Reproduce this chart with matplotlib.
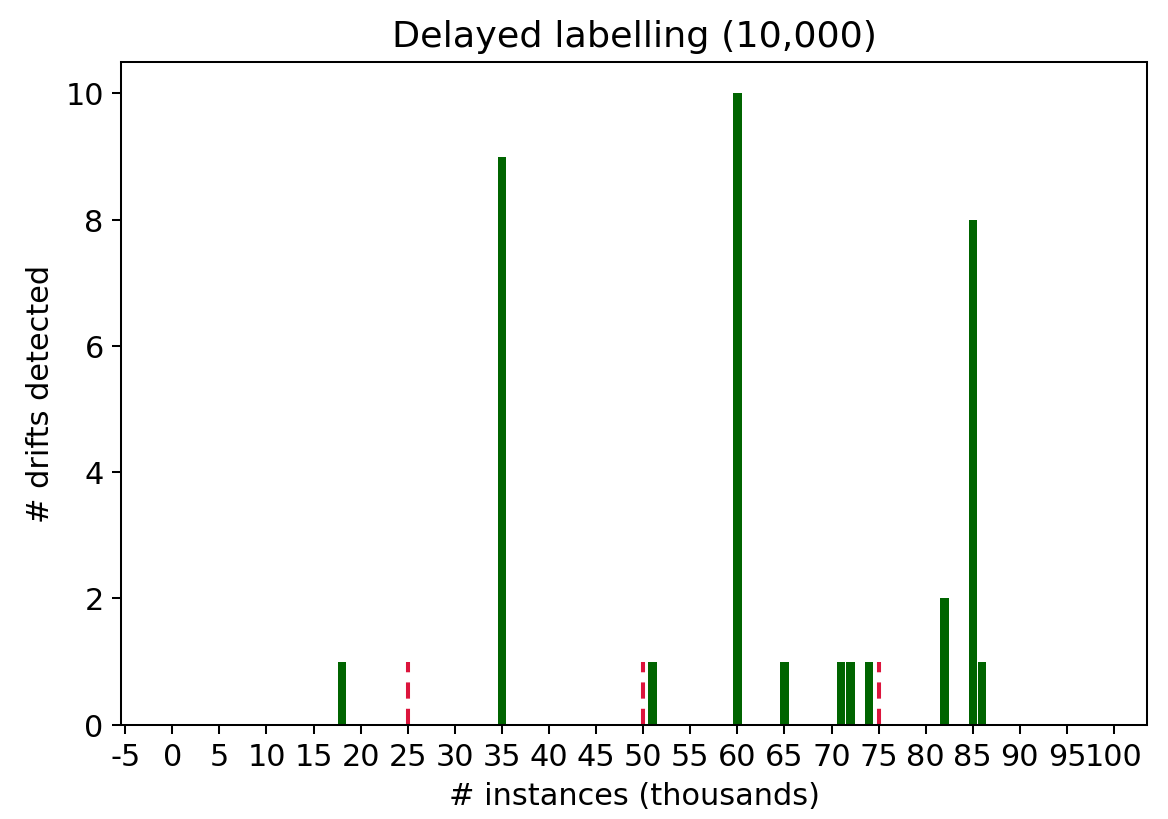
import matplotlib
matplotlib.use("Agg")
import matplotlib.pyplot as plt

# drift detections per thousand instances
positions = [18, 35, 51, 60, 65, 71, 72, 74, 82, 85, 86]
counts = [1, 9, 1, 10, 1, 1, 1, 1, 2, 8, 1]

# true drift points
true_drifts = [25, 50, 75]

xticks = list(range(-5, 101, 5))

plt.rcParams["font.size"] = 12

fig = plt.figure(figsize=(6.4, 4.49), dpi=182.5)
ax = fig.add_axes([0.104, 0.115, 0.878, 0.809])

ax.bar(positions, counts, width=0.9, color="darkgreen")
ax.vlines(true_drifts, 0, 1, colors="crimson", linestyles=(0, (4, 2.5)), linewidth=1.6)

ax.set_xticks(xticks)
ax.set_xticklabels([str(t) for t in xticks])
ax.set_xlim(-5.4, 103.5)
ax.set_ylim(0, 10.5)

ax.set_title("Delayed labelling (10,000)", fontsize=14.4)
ax.set_xlabel("# instances (thousands)")
ax.set_ylabel("# drifts detected")

fig.savefig("out.png", dpi=182.5)
